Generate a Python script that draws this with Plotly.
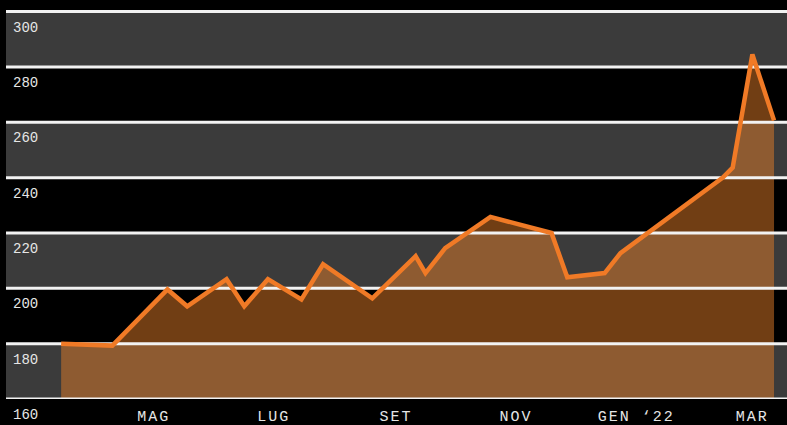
import plotly.graph_objects as go

# ---- data ----
dates = ["2021-03-15", "2021-04-10", "2021-05-08", "2021-05-18", "2021-06-07",
         "2021-06-16", "2021-06-28", "2021-07-15", "2021-07-26", "2021-08-20",
         "2021-09-11", "2021-09-16", "2021-09-26", "2021-10-19", "2021-11-19",
         "2021-11-27", "2021-12-16", "2021-12-24", "2022-02-14", "2022-02-19",
         "2022-03-01", "2022-03-12"]
values = [180.0, 179.3, 199.6, 193.5, 203.3, 193.5, 203.3, 196.0, 208.7, 196.4,
          211.6, 205.5, 214.5, 225.8, 220.0, 204.0, 205.5, 212.7, 240.0, 243.6,
          284.5, 260.7]

y_ticks = [160, 180, 200, 220, 240, 260, 280, 300]
x_tickvals = ["2021-05-01", "2021-07-01", "2021-09-01", "2021-11-01",
              "2022-01-01", "2022-03-01"]
x_ticktext = ["MAG", "LUG", "SET", "NOV", "GEN \u201822", "MAR"]

x_range = ["2021-02-15", "2022-03-18 14:00"]
y_range = [160, 304.2]

LINE = "#f07a26"
FILL = "rgba(226,124,40,0.5)"
BAND = "#3b3b3b"
GRID = "#f2f2f2"
TEXT = "#e6e6e6"
FONT = "Liberation Mono, DejaVu Sans Mono, monospace"

fig = go.Figure()

# area fill (no line)
fig.add_trace(go.Scatter(x=dates, y=values, mode="lines", fill="tozeroy",
                         fillcolor=FILL, line=dict(width=0, color=FILL),
                         hoverinfo="skip", showlegend=False))

# gridlines drawn above the fill but below the line
gx, gy = [], []
for v in y_ticks:
    gx += [x_range[0], x_range[1], None]
    gy += [v, v, None]
fig.add_trace(go.Scatter(x=gx, y=gy, mode="lines", line=dict(color=GRID, width=3),
                         hoverinfo="skip", showlegend=False, cliponaxis=False))

# main line
fig.add_trace(go.Scatter(x=dates, y=values, mode="lines",
                         line=dict(color=LINE, width=4.5, shape="linear"),
                         showlegend=False))

# alternating bands
shapes = []
for i in range(len(y_ticks) - 1):
    if i % 2 == 0:
        shapes.append(dict(type="rect", xref="paper", x0=0, x1=1, yref="y",
                           y0=y_ticks[i], y1=y_ticks[i + 1], fillcolor=BAND,
                           line=dict(width=0), layer="below"))

annotations = []
for v in y_ticks:
    annotations.append(dict(xref="paper", x=0, yref="y", y=v, text=str(v),
                            showarrow=False, xanchor="left", yanchor="top",
                            xshift=5, yshift=-6,
                            font=dict(family=FONT, size=14, color=TEXT)))

fig.update_layout(
    width=787, height=425,
    margin=dict(l=6, r=0, t=0, b=26),
    paper_bgcolor="black", plot_bgcolor="black",
    shapes=shapes, annotations=annotations,
    xaxis=dict(type="date", range=x_range, showgrid=False, zeroline=False,
               showline=False, ticks="", ticklabelstandoff=6,
               tickvals=x_tickvals,
               ticktext=['<span style="letter-spacing:2px">%s</span>' % t for t in x_ticktext],
               tickfont=dict(family=FONT, size=15, color=TEXT)),
    yaxis=dict(range=y_range, showgrid=False, zeroline=False, showline=False,
               showticklabels=False, ticks=""),
)

fig.write_html("out.html")
